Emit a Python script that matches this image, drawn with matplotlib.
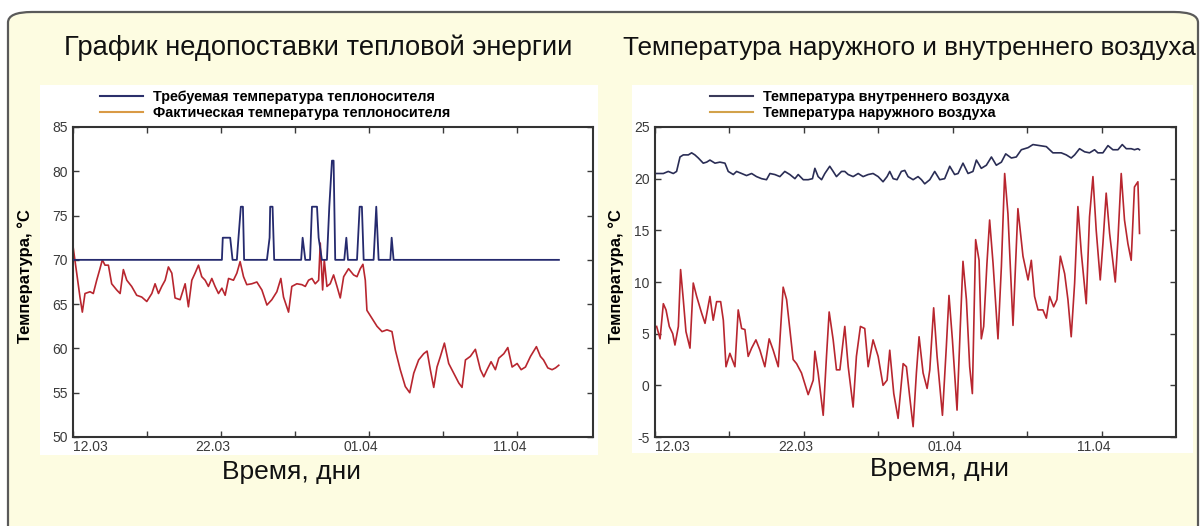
import matplotlib.pyplot as plt
import matplotlib.transforms as mtransforms
from matplotlib.lines import Line2D
from matplotlib.patches import FancyBboxPatch, Rectangle

plt.rcParams['font.family'] = ['Liberation Sans', 'DejaVu Sans']
plt.rcParams['axes.unicode_minus'] = False

# ---- data (days since 12.03) ----
req_days = [0, 10.05, 10.11, 10.61, 10.77, 11.06, 11.17, 11.33, 11.47, 11.55,
            13.09, 13.27, 13.31, 13.47, 13.58, 15.4, 15.5, 15.68, 16.0, 16.13,
            16.47, 16.58, 16.8, 17.14, 17.3, 17.48, 17.59, 17.7, 18.31, 18.45,
            18.56, 19.17, 19.35, 19.5, 19.62, 20.29, 20.47, 20.63, 21.42, 21.51,
            21.64, 32.8]
req_temp = [70, 70, 72.5, 72.5, 70, 70, 72.5, 76, 76, 70,
            70, 72.5, 76, 76, 70, 70, 72.5, 70, 70, 76,
            76, 72.5, 70, 70, 76, 81.2, 81.2, 70, 70, 72.5,
            70, 70, 76, 76, 70, 70, 76, 70, 70, 72.5,
            70, 70]

fact_days = [0.02, 0.25, 0.47, 0.63, 0.81, 1.15, 1.37, 1.60, 1.82, 1.98, 2.16, 2.39,
             2.61, 2.95, 3.18, 3.40, 3.63, 3.96, 4.30, 4.64, 4.98, 5.32, 5.54, 5.77,
             5.99, 6.22, 6.44, 6.67, 6.89, 7.23, 7.57, 7.79, 8.02, 8.24, 8.47, 8.69,
             8.92, 9.14, 9.37, 9.59, 9.82, 10.05, 10.27, 10.50, 10.83, 11.06, 11.28,
             11.51, 11.73, 12.07, 12.41, 12.75, 13.09, 13.42, 13.76, 14.03, 14.21,
             14.55, 14.77, 15.11, 15.45, 15.68, 15.90, 16.13, 16.35, 16.58, 16.69,
             16.85, 16.96, 17.14, 17.36, 17.59, 17.82, 18.04, 18.27, 18.60, 18.94,
             19.17, 19.39, 19.57, 19.73, 19.84, 20.18, 20.52, 20.86, 21.19, 21.53,
             21.76, 22.09, 22.43, 22.73, 23.00, 23.33, 23.67, 23.90, 24.12, 24.35,
             24.57, 24.80, 25.07, 25.36, 25.70, 26.04, 26.26, 26.49, 26.82, 27.16,
             27.50, 27.73, 27.95, 28.22, 28.51, 28.74, 29.08, 29.35, 29.64, 29.98,
             30.25, 30.54, 30.88, 31.28, 31.55, 31.76, 32.05, 32.34, 32.57, 32.79]
fact_temp = [71.3, 68.5, 65.8, 64.1, 66.2, 66.4, 66.2, 67.7, 69.0, 70.0, 69.4, 69.4,
             67.3, 66.6, 66.2, 68.9, 67.7, 67.0, 66.0, 65.8, 65.3, 66.2, 67.3, 66.2,
             67.0, 67.7, 69.2, 68.5, 65.7, 65.5, 67.3, 64.7, 67.7, 68.5, 69.4, 68.1,
             67.7, 67.0, 67.9, 67.0, 66.2, 66.8, 66.0, 67.9, 67.7, 68.5, 69.8,
             68.1, 67.2, 67.3, 67.5, 66.6, 64.9, 65.5, 66.4, 67.9, 65.8,
             64.1, 67.0, 67.3, 67.2, 67.0, 67.7, 67.9, 67.3, 67.7, 71.9,
             66.6, 70.0, 67.0, 67.3, 68.3, 67.0, 65.7, 68.1, 69.0, 68.3,
             68.1, 69.0, 69.5, 67.7, 64.3, 63.4, 62.5, 61.9, 62.1, 61.9,
             59.8, 57.6, 55.7, 55.0, 57.2, 58.7, 59.4, 59.7, 57.6, 55.6,
             57.9, 59.1, 60.6, 58.3, 57.2, 56.1, 55.6, 58.7, 59.1, 59.9,
             57.6, 56.8, 57.6, 58.5, 57.6, 58.9, 59.4, 60.1, 57.9, 58.3,
             57.6, 57.9, 59.1, 60.2, 59.1, 58.7, 57.8, 57.6, 57.8, 58.1]

in_days = [0.11, 0.56, 0.89, 1.23, 1.45, 1.68, 1.90, 2.24, 2.46, 2.68, 2.91, 3.24,
           3.47, 3.69, 4.03, 4.36, 4.70, 4.92, 5.26, 5.48, 5.82, 6.15, 6.49, 6.82,
           7.16, 7.49, 7.72, 8.05, 8.39, 8.72, 9.06, 9.40, 9.62, 9.96, 10.29, 10.58,
           10.74, 10.96, 11.19, 11.41, 11.74, 11.97, 12.19, 12.53, 12.75, 12.98,
           13.31, 13.65, 13.98, 14.32, 14.65, 14.99, 15.32, 15.59, 15.77, 16.00,
           16.26, 16.55, 16.78, 17.00, 17.34, 17.67, 17.90, 18.12, 18.46, 18.79,
           19.13, 19.46, 19.80, 20.13, 20.36, 20.69, 21.03, 21.36, 21.59, 21.92,
           22.26, 22.60, 22.93, 23.27, 23.56, 23.94, 24.27, 24.61, 25.06, 25.39,
           25.84, 26.29, 26.73, 27.29, 27.63, 27.96, 28.19, 28.52, 28.86, 29.19,
           29.53, 29.75, 30.09, 30.43, 30.76, 31.10, 31.39, 31.66, 31.99, 32.21,
           32.44, 32.55]
in_temp = [20.5, 20.5, 20.7, 20.5, 20.7, 22.1, 22.3, 22.3, 22.5, 22.3, 22.0, 21.5,
           21.6, 21.8, 21.5, 21.6, 21.5, 20.7, 20.4, 20.7, 20.5, 20.3, 20.5, 20.2,
           20.0, 19.9, 20.5, 20.4, 20.2, 20.7, 20.4, 20.0, 20.4, 19.9, 19.9, 20.0,
           21.0, 20.2, 19.9, 20.5, 21.2, 20.7, 20.2, 20.7, 20.7, 20.4,
           20.2, 20.5, 20.2, 20.4, 20.5, 20.2, 19.7, 20.2, 20.7, 20.0,
           19.9, 20.7, 20.8, 20.2, 19.9, 20.2, 19.9, 19.5, 19.9, 20.7,
           19.9, 20.0, 21.2, 20.4, 20.5, 21.5, 20.5, 20.7, 21.8, 21.0,
           21.3, 22.1, 21.3, 21.6, 22.4, 22.0, 22.1, 22.8, 23.0, 23.3,
           23.2, 23.1, 22.5, 22.5, 22.3, 22.0, 22.3, 22.9, 22.6, 22.5,
           22.8, 22.5, 22.5, 23.2, 22.8, 22.8, 23.3, 22.9, 22.9, 22.8,
           22.9, 22.8]

out_days = [0.11, 0.34, 0.56, 0.74, 0.96, 1.19, 1.34, 1.57, 1.72, 1.90, 2.08, 2.35,
            2.57, 2.80, 3.13, 3.36, 3.69, 3.91, 4.14, 4.41, 4.59, 4.77, 5.03, 5.37,
            5.59, 5.82, 6.04, 6.26, 6.49, 6.78, 7.05, 7.38, 7.67, 7.94, 8.28, 8.61,
            8.84, 9.06, 9.28, 9.51, 9.84, 10.29, 10.63, 10.74, 10.96, 11.30, 11.52,
            11.70, 11.97, 12.19, 12.42, 12.75, 12.98, 13.31, 13.53, 13.80, 14.09,
            14.32, 14.65, 14.99, 15.32, 15.59, 15.77, 16.04, 16.33, 16.67, 16.89,
            17.11, 17.34, 17.56, 17.74, 18.01, 18.28, 18.46, 18.72, 18.95, 19.31,
            19.57, 19.75, 19.98, 20.29, 20.51, 20.69, 20.92, 21.14, 21.32, 21.54,
            21.77, 21.92, 22.08, 22.30, 22.48, 22.71, 23.04, 23.27, 23.49, 23.71,
            24.05, 24.38, 24.72, 25.06, 25.28, 25.50, 25.73, 26.06, 26.29, 26.51,
            26.78, 27.00, 27.23, 27.52, 27.74, 27.96, 28.19, 28.41, 28.64, 28.97,
            29.19, 29.42, 29.64, 29.91, 30.09, 30.31, 30.54, 30.92, 31.10, 31.32,
            31.54, 31.77, 31.99, 32.21, 32.44, 32.55]
out_temp = [5.7, 4.5, 7.9, 7.3, 5.7, 5.0, 3.9, 5.7, 11.2, 8.3, 5.2, 3.6,
            9.9, 8.6, 7.0, 6.0, 8.6, 6.3, 8.1, 8.1, 6.3, 1.8, 3.1, 1.8,
            7.3, 5.5, 5.4, 2.8, 3.6, 4.4, 3.4, 1.8, 4.5, 3.4, 1.8, 9.5,
            8.3, 5.4, 2.5, 2.1, 1.2, -0.9, 0.5, 3.3, 1.2, -2.9, 2.8,
            7.1, 4.4, 1.5, 1.5, 5.7, 1.8, -2.1, 2.8, 5.7, 5.5,
            1.8, 4.4, 2.8, 0.0, 0.5, 3.4, -0.8, -3.2, 2.1, 1.8,
            -1.1, -4.0, 1.2, 4.7, 1.2, -0.3, 1.5, 7.5, 2.8, -2.9,
            3.7, 8.7, 4.4, -2.4, 5.7, 12.0, 8.3, 1.8, -0.8, 14.1,
            12.1, 4.5, 5.7, 11.8, 16.0, 11.8, 4.5, 11.5, 20.5, 16.6,
            5.8, 17.1, 12.5, 10.2, 12.1, 8.6, 7.3, 7.3, 6.5, 8.6,
            7.6, 8.3, 12.5, 10.8, 8.3, 4.7, 9.9, 17.3, 12.8, 7.9,
            16.3, 20.2, 15.0, 10.2, 13.7, 18.6, 14.7, 10.0, 14.1, 20.5,
            16.0, 13.7, 12.1, 19.2, 19.7, 14.7]

tick_days = [0, 5, 10, 15, 20, 25, 30]
tick_labels = ['12.03', '', '22.03', '', '01.04', '', '11.04']

W, H = 1201, 526


def fx(x):
    return x / W


def fy(y):
    return 1 - y / H


fig = plt.figure(figsize=(W / 100, H / 100), dpi=100)
fig.patch.set_facecolor('white')

# yellow rounded board and white plot panels (behind the axes)
board = FancyBboxPatch((fx(8), fy(560)), fx(1190), 548 / H,
                       boxstyle='round,pad=0,rounding_size=0.02',
                       transform=fig.transFigure, facecolor='#fdfce1',
                       edgecolor='#5a5a5a', linewidth=1.6, zorder=-2)
fig.patches.append(board)
for x0, x1, y0, y1 in [(40, 598, 85, 455), (632, 1193, 85, 453)]:
    fig.patches.append(Rectangle((fx(x0), fy(y1)), fx(x1 - x0), (y1 - y0) / H,
                                 transform=fig.transFigure, facecolor='white',
                                 edgecolor='none', zorder=-1))

ax1 = fig.add_axes([fx(73), fy(437), fx(520), 310 / H])
ax2 = fig.add_axes([fx(655), fy(437), fx(521), 310 / H])

ax1.plot(req_days, req_temp, color='#252a6e', linewidth=1.3, zorder=3)
ax1.plot(fact_days, fact_temp, color='#b8262f', linewidth=1.2, zorder=2)
ax2.plot(in_days, in_temp, color='#2a2d55', linewidth=1.2, zorder=3)
ax2.plot(out_days, out_temp, color='#b8262f', linewidth=1.2, zorder=2)

ax1.set_xlim(0, 35.1)
ax1.set_ylim(50, 85)
ax1.set_yticks(range(50, 86, 5))
ax2.set_xlim(0, 35)
ax2.set_ylim(-5, 25)
ax2.set_yticks(range(-5, 26, 5))

shift = mtransforms.ScaledTranslation(-8 / 100, 0, fig.dpi_scale_trans)
for ax in (ax1, ax2):
    ax.set_facecolor('white')
    ax.set_xticks(tick_days)
    ax.set_xticklabels(tick_labels)
    ax.tick_params(direction='in', length=4, width=1, top=True, right=True,
                   labelsize=10, colors='#3a3a3a', pad=2)
    ax.tick_params(axis='y', pad=4)
    labels = ax.get_xticklabels()
    labels[0].set_horizontalalignment('left')
    for lab in labels[1:]:
        lab.set_transform(lab.get_transform() + shift)
    for s in ax.spines.values():
        s.set_linewidth(1.5)
        s.set_color('#333333')
    ax.set_ylabel('Температура, °С', fontsize=12, fontweight='bold')

ax1.yaxis.set_label_coords((33 - 73) / 520, 0.52)
ax2.yaxis.set_label_coords((624 - 655) / 521, 0.52)

# legends
leg_kw = dict(loc='upper left', bbox_transform=fig.transFigure, frameon=False,
              handlelength=3.0, handletextpad=0.7, labelspacing=0.12, borderpad=0,
              borderaxespad=0, prop={'size': 10.4, 'weight': 'bold'})
leg1 = [Line2D([], [], color='#2b2f6b', lw=1.5), Line2D([], [], color='#d99a45', lw=1.5)]
ax1.legend(leg1, ['Требуемая температура теплоносителя', 'Фактическая температура теплоносителя'],
           bbox_to_anchor=(fx(100), fy(90)), **leg_kw)
leg2 = [Line2D([], [], color='#3a3a5a', lw=1.5), Line2D([], [], color='#d2a24a', lw=1.5)]
ax2.legend(leg2, ['Температура внутреннего воздуха', 'Температура наружного воздуха'],
           bbox_to_anchor=(fx(710), fy(90)), **leg_kw)

fig.text(fx(318), fy(48), 'График недопоставки тепловой энергии', fontsize=19.7,
         ha='center', va='center', color='#111111')
fig.text(fx(909), fy(48), 'Температура наружного и внутреннего воздуха', fontsize=18.8,
         ha='center', va='center', color='#111111')
fig.text(fx(291), fy(472), 'Время, дни', fontsize=19, ha='center', va='center', color='#111111')
fig.text(fx(940), fy(469), 'Время, дни', fontsize=19, ha='center', va='center', color='#111111')

fig.savefig('out.png', dpi=100)
